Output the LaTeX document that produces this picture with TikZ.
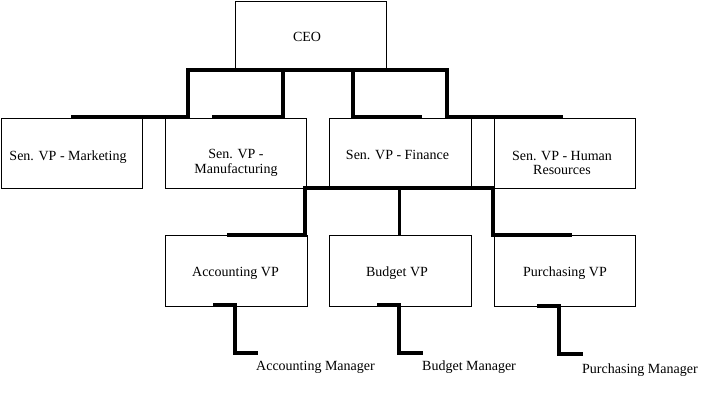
\documentclass[tikz,border=0pt]{standalone}
\usepackage{fontspec}
\setmainfont{Liberation Serif}
\begin{document}
\begin{tikzpicture}[x=1pt,y=-1pt,
  box/.style={draw,line width=0.9pt,anchor=north west,inner sep=0pt,minimum width=141pt,minimum height=70pt},
  txt/.style={inner sep=0pt,align=center,font=\fontsize{14}{14.5}\selectfont},
  mtxt/.style={inner sep=0pt,anchor=west,font=\fontsize{14}{14.5}\selectfont},
  bus/.style={line width=3.2pt,line join=miter,line cap=butt},
  sbus/.style={line width=3pt,line cap=butt}]
\useasboundingbox (0,0) rectangle (716,402);
% boxes
\node[box,minimum width=151pt,minimum height=69pt] (ceo) at (235,0.5) {};
\node[box] (mkt) at (0.5,118) {};
\node[box] (man) at (165,118) {};
\node[box,minimum width=142pt] (fin) at (329,118) {};
\node[box] (hr) at (494,118) {};
\node[box,minimum width=142pt,minimum height=71pt] (acc) at (165,235) {};
\node[box,minimum width=142pt,minimum height=71pt] (bud) at (329,235) {};
\node[box,minimum width=141pt,minimum height=71pt] (pur) at (494,235) {};
% texts
\node[txt] (ceot) at (307,37) {CEO};
\node[txt] (mktt) at (68,157.5) {Sen. VP - Marketing};
\node[txt] (mant) at (236,163) {Sen. VP -\\Manufacturing};
\node[txt] (fint) at (397.5,155) {Sen. VP - Finance};
\node[txt] (hrt) at (562,163) {Sen. VP - Human\\Resources};
\node[txt] (acct) at (235.5,273.5) {Accounting VP};
\node[txt] (budt) at (397,273.5) {Budget VP};
\node[txt] (purt) at (565,273) {Purchasing VP};
\node[mtxt] (accm) at (256,367) {Accounting Manager};
\node[mtxt] (budm) at (422,367) {Budget Manager};
\node[mtxt] (purm) at (582,370) {Purchasing Manager};
% junction coordinates
\coordinate (a1) at (71,117);
\coordinate (a2) at (188,70);
\coordinate (a3) at (447,70);
\coordinate (a4) at (563,117);
\coordinate (b1) at (212,117);
\coordinate (b2) at (283,70);
\coordinate (c1) at (353,70);
\coordinate (c2) at (422,117);
\coordinate (e1) at (227,235);
\coordinate (e2) at (305,188);
\coordinate (e3) at (493,188);
\coordinate (e4) at (572,235);
\coordinate (f1) at (399,188);
\coordinate (f2) at (399,235);
\coordinate (g1) at (213,305);
\coordinate (g2) at (235,353);
\coordinate (g3) at (258,353);
\coordinate (h1) at (377,305);
\coordinate (h2) at (399,353);
\coordinate (h3) at (423,353);
\coordinate (i1) at (537,306);
\coordinate (i2) at (559,354);
\coordinate (i3) at (583,354);
% connectors
\draw[bus] (a1) -| (a2) -- (a3) |- (a4);
\draw[bus] (b1) -| (b2);
\draw[bus] (c1) |- (c2);
\draw[bus] (e1) -| (e2) -- (e3) |- (e4);
\draw[sbus] (f1) -- (f2);
\draw[bus] (g1) -| (g2) -- (g3);
\draw[bus] (h1) -| (h2) -- (h3);
\draw[bus] (i1) -| (i2) -- (i3);
\end{tikzpicture}
\end{document}
